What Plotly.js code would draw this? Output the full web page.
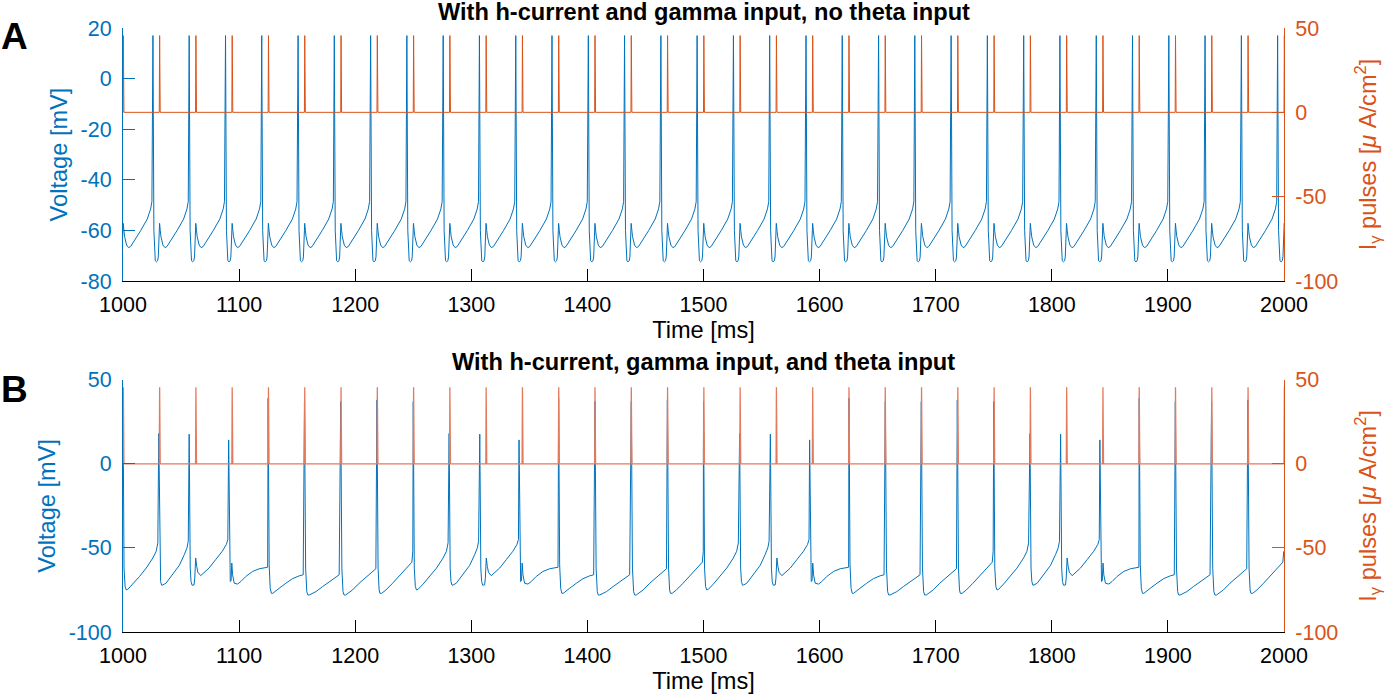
<!DOCTYPE html>
<html>
<head>
<meta charset="utf-8">
<script src="https://cdn.plot.ly/plotly-3.0.1.min.js"></script>
<style>
  html, body { margin: 0; padding: 0; background: #fff; }
  #chart { width: 1391px; height: 698px; }
</style>
</head>
<body>
<div id="chart"></div>
<script>
// gamma pulse onsets (ms), the same in both panels
const pulseTimes = [1000, 1031.25, 1062.5, 1093.75, 1125, 1156.25, 1187.5, 1218.75,
  1250, 1281.25, 1312.5, 1343.75, 1375, 1406.25, 1437.5, 1468.75,
  1500, 1531.25, 1562.5, 1593.75, 1625, 1656.25, 1687.5, 1718.75,
  1750, 1781.25, 1812.5, 1843.75, 1875, 1906.25, 1937.5, 1968.75, 2000];
const pulseAmp = 45.5;

// panel A: spike times (ms) and the voltage course after each spike
const spikeTimesA = [994.5, 1025.8, 1057.0, 1088.3, 1119.5, 1150.8, 1182.0, 1213.3,
  1244.5, 1275.8, 1307.0, 1338.3, 1369.5, 1400.8, 1432.0, 1463.3,
  1494.5, 1525.8, 1557.0, 1588.3, 1619.5, 1650.8, 1682.0, 1713.3,
  1744.5, 1775.8, 1807.0, 1838.3, 1869.5, 1900.8, 1932.0, 1963.3, 1994.5];
const spikePeakA = 17;
// [ms after spike, mV]
const afterSpikeA = [[0.8, -60], [1.3, -69], [2.0, -72], [3.0, -72.4], [4.0, -72], [4.6, -70.5],
  [5.1, -63], [5.7, -57.2], [6.3, -60], [6.9, -62.5], [8.6, -65.8], [10.3, -66.8], [12.0, -66.4],
  [14.9, -64.4], [20.7, -60.1], [26.4, -55.5], [29.3, -51.5], [30.4, -48.6]];

// panel B: theta input, the same 8-spike cycle shows 4 times
const spikeTimesB = [1000, 1030.8, 1057.0, 1091.0, 1125.0, 1156.3, 1187.5, 1218.7,
  1250, 1280.9, 1307.3, 1341.1, 1375.2, 1406.5, 1437.8, 1468.9,
  1500, 1531.1, 1557.6, 1591.4, 1625.3, 1656.6, 1687.6, 1718.6,
  1750, 1781.2, 1807.6, 1841.4, 1875.3, 1906.4, 1937.6, 1968.9];
const spikePeaksB = [37, 18, 17.6, 14.2, 39, 37, 37, 38,
  37, 18, 17.6, 14.2, 39, 37, 37, 38,
  37, 18, 17.6, 14.2, 39, 37, 37, 38,
  37, 18, 17.6, 14.2, 39, 37, 37, 38];
const spikeKindsB = [0, 1, 2, 3, 4, 5, 6, 7, 0, 1, 2, 3, 4, 5, 6, 7,
  0, 1, 2, 3, 4, 5, 6, 7, 0, 1, 2, 3, 4, 5, 6, 7];
const afterSpikeB = [
  [[0.9, -62], [1.8, -73], [2.8, -75], [4.2, -74.6], [8.5, -71.5], [14.2, -67], [20.0, -62], [25.7, -56], [28.6, -52], [30.0, -47]],
  [[0.9, -62], [1.6, -70], [2.5, -72.2], [3.5, -72], [6.2, -71], [11.9, -66], [17.7, -60.4], [22.0, -54], [24.3, -50], [25.4, -46]],
  [[0.9, -62], [1.6, -70], [2.5, -72.2], [4.2, -72], [4.8, -68], [5.6, -56], [6.5, -61], [7.5, -64.5], [9.9, -66.5], [12.5, -65],
   [17.1, -62], [22.8, -57], [28.5, -52], [32.0, -48], [33.3, -45]],
  [[0.8, -62], [1.4, -70], [2.1, -69.5], [2.7, -59], [3.4, -66], [4.8, -71], [7.7, -71.5], [10.5, -70], [14.8, -67], [20.6, -64],
   [26.3, -62.4], [32.1, -62], [33.6, -61.5]],
  [[0.9, -60], [1.8, -74], [2.8, -77], [4.0, -77], [6.5, -75.5], [9.5, -74], [15.3, -71], [21.0, -68.3], [26.8, -66.6], [30.2, -66]],
  [[1.0, -62], [2.0, -76], [2.9, -78], [4.1, -78], [6.5, -77.2], [9.9, -76], [15.6, -73], [21.4, -70], [27.1, -67.6], [29.9, -66]],
  [[1.0, -62], [2.0, -76], [2.9, -78], [4.3, -78], [7.0, -76.5], [10.2, -75], [15.9, -71], [21.7, -67.6], [27.4, -64], [30.3, -62.4]],
  [[1.0, -62], [1.9, -75], [2.6, -77], [4.1, -77], [7.8, -75], [13.5, -71], [19.2, -66.6], [25.0, -62], [30.1, -58.5], [30.9, -52]]
];

const timeTicks = [1000, 1100, 1200, 1300, 1400, 1500, 1600, 1700, 1800, 1900, 2000];
const voltTicksA = [-80, -60, -40, -20, 0, 20];
const voltTicksB = [-100, -50, 0, 50];
const pulseTicks = [-100, -50, 0, 50];

const blue = '#0072BD';
const orange = '#D95319';

function voltageXY(times, peaks, kinds, after) {
  const x = [], y = [];
  times.forEach((t, i) => {
    x.push(t); y.push(peaks[i]);
    const next = i + 1 < times.length ? times[i + 1] : Infinity;
    after[kinds[i]].forEach(([dt, v]) => {
      if (t + dt < next) { x.push(t + dt); y.push(v); }
    });
  });
  return { x, y };
}

function pulseXY(times, amp) {
  const x = [], y = [];
  times.forEach(t => {
    x.push(t, t + 0.3, t + 0.8);
    y.push(0, amp, 0);
  });
  return { x, y };
}

const vA = voltageXY(spikeTimesA, spikeTimesA.map(() => spikePeakA), spikeTimesA.map(() => 0), [afterSpikeA]);
const vB = voltageXY(spikeTimesB, spikePeaksB, spikeKindsB, afterSpikeB);
const pA = pulseXY(pulseTimes, pulseAmp);
const pB = pulseXY(pulseTimes, pulseAmp);

const traces = [
  { x: vA.x, y: vA.y, xaxis: 'x', yaxis: 'y', type: 'scatter', mode: 'lines', line: { color: blue, width: 1 }, hoverinfo: 'skip' },
  { x: pA.x, y: pA.y, xaxis: 'x', yaxis: 'y2', type: 'scatter', mode: 'lines', line: { color: orange, width: 1 }, hoverinfo: 'skip' },
  { x: vB.x, y: vB.y, xaxis: 'x2', yaxis: 'y3', type: 'scatter', mode: 'lines', line: { color: blue, width: 1 }, hoverinfo: 'skip' },
  { x: pB.x, y: pB.y, xaxis: 'x2', yaxis: 'y4', type: 'scatter', mode: 'lines', line: { color: '#E47A5C', width: 1.3 }, hoverinfo: 'skip' }
];

const tickFont = 21.5;
const labelFont = 23.6;

const timeAxis = {
  range: [1000, 2000],
  tickvals: timeTicks,
  ticktext: timeTicks.map(String),
  ticks: 'inside', ticklen: 12, tickwidth: 1, tickcolor: '#000',
  showline: true, linecolor: '#000', linewidth: 1,
  showgrid: false, zeroline: false,
  tickfont: { size: tickFont, color: '#000' },
  ticklabelstandoff: 4,
  title: { text: 'Time [ms]', font: { size: labelFont, color: '#000' }, standoff: 4 }
};

function valueAxis(range, ticks, color, title, standoff) {
  return {
    range: range,
    tickvals: ticks,
    ticktext: ticks.map(String),
    ticks: 'inside', ticklen: 12, tickwidth: 1, tickcolor: color,
    showline: true, linecolor: color, linewidth: 1,
    showgrid: false, zeroline: false,
    tickfont: { size: tickFont, color: color },
    ticklabelstandoff: 6,
    title: { text: title, font: { size: labelFont, color: color }, standoff: standoff }
  };
}

const pulseTitle = 'I<sub>γ</sub> pulses [<i>μ</i> A/cm<sup>2</sup>]';

const layout = {
  width: 1391, height: 698,
  margin: { l: 123, r: 107, t: 28, b: 66 },
  paper_bgcolor: '#fff', plot_bgcolor: '#fff',
  font: { family: 'Liberation Sans, Arial, sans-serif', size: tickFont, color: '#000' },
  showlegend: false,
  xaxis: Object.assign({}, timeAxis, { anchor: 'y', domain: [0, 1] }),
  yaxis: Object.assign(valueAxis([-80, 20], voltTicksA, blue, 'Voltage [mV]', 6), { domain: [0.5811, 1], anchor: 'x' }),
  yaxis2: Object.assign(valueAxis([-100, 50], pulseTicks, orange, pulseTitle, 22), { overlaying: 'y', side: 'right', anchor: 'x' }),
  xaxis2: Object.assign({}, timeAxis, { anchor: 'y3', domain: [0, 1] }),
  yaxis3: Object.assign(valueAxis([-100, 50], voltTicksB, blue, 'Voltage [mV]', 6), { domain: [0, 0.4177], anchor: 'x2' }),
  yaxis4: Object.assign(valueAxis([-100, 50], pulseTicks, orange, pulseTitle, 22), { overlaying: 'y3', side: 'right', anchor: 'x2' }),
  annotations: [
    { text: '<b>With h-current and gamma input, no theta input</b>', xref: 'paper', yref: 'paper',
      x: 0.5, y: 1.0265, xanchor: 'center', yanchor: 'middle', showarrow: false, font: { size: labelFont, color: '#000' } },
    { text: '<b>With h-current, gamma input, and theta input</b>', xref: 'paper', yref: 'paper',
      x: 0.5, y: 0.447, xanchor: 'center', yanchor: 'middle', showarrow: false, font: { size: labelFont, color: '#000' } },
    { text: '<b>A</b>', xref: 'paper', yref: 'paper', x: -0.107, y: 0.9866, xanchor: 'left', yanchor: 'middle',
      showarrow: false, font: { size: 37, color: '#000' } },
    { text: '<b>B</b>', xref: 'paper', yref: 'paper', x: -0.107, y: 0.4022, xanchor: 'left', yanchor: 'middle',
      showarrow: false, font: { size: 37, color: '#000' } }
  ]
};

Plotly.newPlot('chart', traces, layout, { staticPlot: true });
</script>
</body>
</html>
